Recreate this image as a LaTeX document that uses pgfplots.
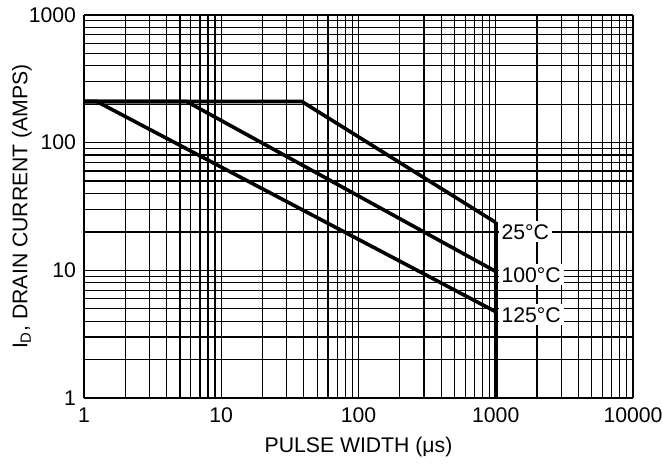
\documentclass[border=0pt]{standalone}
\usepackage{fontspec}
\setmainfont{Liberation Sans}
\usepackage{pgfplots}
\pgfplotsset{compat=1.18}
\begin{document}
\begin{tikzpicture}[font=\fontsize{10.6}{13}\selectfont]
\begin{loglogaxis}[
  scale only axis, width=274.5pt, height=191.5pt,
  xmin=1, xmax=10000, ymin=1, ymax=1000,
  grid=both,
  major grid style={black, line width=0.6pt},
  minor grid style={black, line width=0.6pt},
  axis lines=left,
  x axis line style={-, line width=1.4pt},
  y axis line style={-, line width=1.4pt},
  major tick length=0pt, minor tick length=0pt,
  xtick={1,10,100,1000,10000}, xticklabels={1,10,100,1000,10000},
  ytick={1,10,100,1000}, yticklabels={1,10,100,1000},
  xticklabel style={yshift=-1.5pt},
  yticklabel style={xshift=-0.5pt},
  xlabel={PULSE WIDTH (μs)},
  ylabel={I\textsubscript{D}, DRAIN CURRENT (AMPS)},
  xlabel style={at={(axis description cs:0.5,0)}, anchor=center, yshift=-24.5pt},
  ylabel style={at={(axis description cs:0,0.5)}, anchor=center, yshift=31pt},
  clip=false,
]
\addplot[black, line width=1.8pt] coordinates {(1,210) (38.7,210) (1000,23.7)};
\addplot[black, line width=1.8pt] coordinates {(1,210) (5.6,210) (1000,9.8)};
\addplot[black, line width=1.8pt] coordinates {(1,210) (1.24,210) (1000,4.74)};
\addplot[black, line width=1.8pt] coordinates {(1000,1) (1000,23.7)};
\node[fill=white, anchor=west, inner sep=1.5pt, xshift=1.2pt] at (axis cs:1000,20) {25°C};
\node[fill=white, anchor=west, inner sep=1.5pt, xshift=1.2pt] at (axis cs:1000,9.2) {100°C};
\node[fill=white, anchor=west, inner sep=1.5pt, xshift=1.2pt] at (axis cs:1000,4.47) {125°C};
\end{loglogaxis}
\pgfresetboundingbox
\path[use as bounding box] (-42pt,-33.5pt) rectangle (289.5pt,199pt);
\end{tikzpicture}
\end{document}
